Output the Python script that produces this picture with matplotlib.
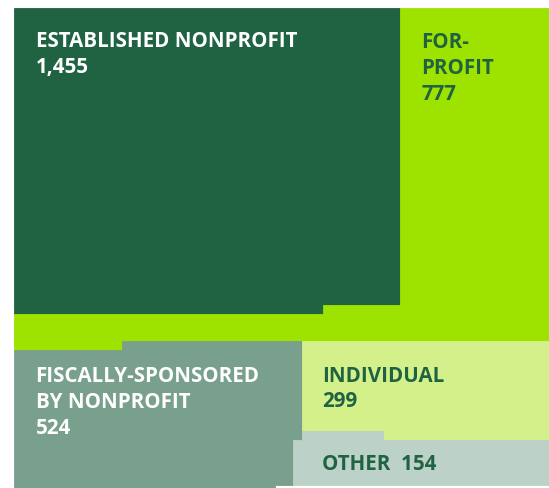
import matplotlib.pyplot as plt
from matplotlib.patches import Polygon

# --- data ---
categories = ["Established nonprofit", "For-profit", "Fiscally-sponsored by nonprofit", "Individual", "Other"]
values = [1455, 777, 524, 299, 154]
label_lines = [
    ["ESTABLISHED NONPROFIT", "1,455"],
    ["FOR-", "PROFIT", "777"],
    ["FISCALLY-SPONSORED", "BY NONPROFIT", "524"],
    ["INDIVIDUAL", "299"],
    ["OTHER  154"],
]

# --- style ---
COLORS = ["#206343", "#9ee200", "#79a08c", "#d3f08a", "#bcd1c7"]
TEXT_COLORS = ["white", "#206343", "white", "#206343", "#206343"]
FONT = "Open Sans"
FONT_SIZE = 14.8

# plot area in pixel units (axes = whole figure)
X0, Y0, X1, Y1 = 14, 9, 549, 489
EST_WIDTH_FRAC = 0.7215  # width share of the big block in the top row

# little hand-drawn steps on the cut lines
EST_JOG_X, EST_DY = 323, (4.4, -4.6)
MID_JOG_X, MID_DY = 122, (8.0, -1.0)
FIS_DX = (1.0, -8.0)
IND_JOG_X, IND_DY = 383, (-7.3, 1.7)
BOT_JOG_X, BOT_DY = 275, -3.0

# label anchors (x, first baseline)
LABEL_POS = [(36.0, 47.3), (421.0, 48.5), (35.5, 382.5), (322.0, 381.7), (322.0, 470.5)]
LINE_STEP = 25.7


def layout(vals):
    """Slice-and-dice positions of the cut lines, from the values."""
    total = sum(vals)
    W, H = X1 - X0, Y1 - Y0
    y_mid = Y0 + H * (vals[0] + vals[1]) / total
    x_est = X0 + W * EST_WIDTH_FRAC
    y_est = Y0 + W * H * vals[0] / total / (x_est - X0)
    x_fis = X0 + W * vals[2] / (vals[2] + vals[3] + vals[4])
    y_ind = y_mid + (Y1 - y_mid) * vals[3] / (vals[3] + vals[4])
    return x_est, y_est, y_mid, x_fis, y_ind


def main():
    x_est, y_est, y_mid, x_fis, y_ind = layout(values)

    a, b = y_est + EST_DY[0], y_est + EST_DY[1]
    m1, m2 = y_mid + MID_DY[0], y_mid + MID_DY[1]
    fu, fl = x_fis + FIS_DX[0], x_fis + FIS_DX[1]
    i1, i2 = y_ind + IND_DY[0], y_ind + IND_DY[1]
    bb = Y1 + BOT_DY
    ej, mj, ij, bj = EST_JOG_X, MID_JOG_X, IND_JOG_X, BOT_JOG_X

    shapes = [
        [(X0, Y0), (x_est, Y0), (x_est, b), (ej, b), (ej, a), (X0, a)],
        [(x_est, Y0), (X1, Y0), (X1, m2), (mj, m2), (mj, m1), (X0, m1),
         (X0, a), (ej, a), (ej, b), (x_est, b)],
        [(X0, m1), (mj, m1), (mj, m2), (fu, m2), (fu, i2), (fl, i2),
         (fl, bb), (bj, bb), (bj, Y1), (X0, Y1)],
        [(fu, m2), (X1, m2), (X1, i2), (ij, i2), (ij, i1), (fu, i1)],
        [(fu, i1), (ij, i1), (ij, i2), (X1, i2), (X1, bb), (fl, bb),
         (fl, i2), (fu, i2)],
    ]

    fig = plt.figure(figsize=(5.49, 4.89), dpi=100)
    ax = fig.add_axes([0, 0, 1, 1])
    ax.set_xlim(0, 549)
    ax.set_ylim(489, 0)
    ax.axis("off")

    for pts, col in zip(shapes, COLORS):
        ax.add_patch(Polygon(pts, closed=True, facecolor=col, edgecolor=col, linewidth=0.6))

    for lines, (x, y), tc in zip(label_lines, LABEL_POS, TEXT_COLORS):
        for k, line in enumerate(lines):
            ax.text(x, y + k * LINE_STEP, line, color=tc, fontsize=FONT_SIZE,
                    fontfamily=FONT, fontweight="bold", ha="left", va="baseline")

    fig.savefig("out.png", dpi=100, facecolor="white")
    plt.close(fig)


if __name__ == "__main__":
    main()
